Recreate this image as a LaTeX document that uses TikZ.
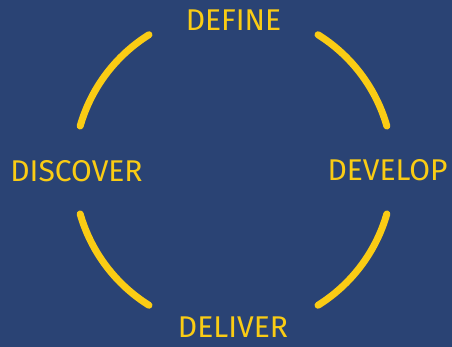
\documentclass[tikz,border=0pt]{standalone}
\usepackage{fontspec}
\setmainfont{Fira Sans}
\definecolor{bgblue}{RGB}{42,67,116}
\definecolor{ayellow}{RGB}{250,204,20}
\begin{document}
\begin{tikzpicture}[x=1pt,y=1pt,
  arcline/.style={draw=ayellow,line width=7pt,line cap=round},
  phase/.style={text=ayellow,font=\fontsize{30}{30}\selectfont,anchor=base,inner sep=0pt}]
\fill[bgblue] (0,0) rectangle (452,347);
\useasboundingbox (0,0) rectangle (452,347);
\coordinate (c) at (233.5,177);
\draw[arcline] ([shift={(122:159.5)}]c) arc[start angle=122,end angle=164,radius=159.5];
\draw[arcline] ([shift={(16:159.5)}]c) arc[start angle=16,end angle=58,radius=159.5];
\draw[arcline] ([shift={(196:159.5)}]c) arc[start angle=196,end angle=238,radius=159.5];
\draw[arcline] ([shift={(302:159.5)}]c) arc[start angle=302,end angle=344,radius=159.5];
\node[phase] (define) at (233.5,316) {DEFINE};
\node[phase] (discover) at (76.5,165) {DISCOVER};
\node[phase] (develop) at (387.5,166) {DEVELOP};
\node[phase] (deliver) at (233,9) {DELIVER};
\end{tikzpicture}
\end{document}
